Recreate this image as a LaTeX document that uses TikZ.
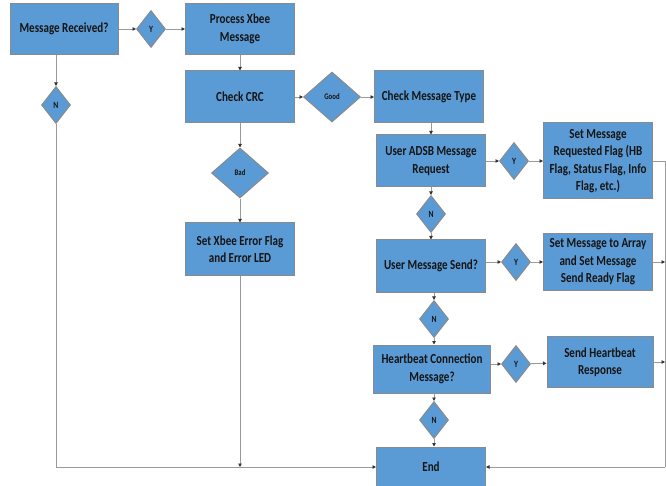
\documentclass[tikz,border=0pt]{standalone}
\usepackage{fontspec}
\setmainfont{Carlito}[FakeStretch=0.8]
\usetikzlibrary{shapes.geometric,arrows.meta}
\definecolor{boxblue}{HTML}{5B9BD5}
\definecolor{boxline}{HTML}{8A8A8A}
\definecolor{flowline}{HTML}{9A9A9A}
\definecolor{inktext}{HTML}{141414}

\begin{document}
\begin{tikzpicture}[x=1pt,y=-1pt]
        \tikzstyle{every node}+=[text=inktext, font=\bfseries\fontsize{13.8}{17.5}\selectfont]
        \tikzstyle{proc}=[draw=boxline, fill=boxblue, line width=1pt, inner sep=1pt, align=center, minimum width=109pt, minimum height=52pt]
        \tikzstyle{dec}=[diamond, draw=boxline, fill=boxblue, line width=1pt, inner sep=0pt, minimum width=29pt, minimum height=37pt, font=\bfseries\fontsize{9.5}{11}\selectfont]
        \tikzstyle{bigdec}=[dec, minimum width=57pt, minimum height=50pt, font=\bfseries\fontsize{8.5}{10}\selectfont]
        \tikzstyle{flow}=[draw=flowline, line width=0.9pt, -{Triangle[length=3.5pt,width=3.5pt,color=black!80]}]
        \tikzstyle{link}=[draw=flowline, line width=0.9pt]
        \useasboundingbox (0,0) rectangle (666,486);
        \node [proc, minimum width=108pt, minimum height=51pt] (recv) at (64,29) {Message Received?};
        \node [dec] (recvY) at (151,29) {Y};
        \node [proc, minimum height=51pt] (xbee) at (240,29) {Process Xbee\\Message};
        \node [dec] (recvN) at (56,105) {N};
        \node [proc] (crc) at (240,97) {Check CRC};
        \node [bigdec] (good) at (332,97) {Good};
        \node [proc] (mtype) at (429,97) {Check Message Type};
        \node [bigdec] (bad) at (240,173) {Bad};
        \node [proc] (err) at (240,249) {Set Xbee Error Flag\\and Error LED};
        \node [proc] (adsb) at (431,161) {User ADSB Message\\Request};
        \node [dec] (adsbY) at (514,161) {Y};
        \node [proc, minimum height=76pt] (reqflag) at (598,161) {Set Message\\Requested Flag (HB\\Flag, Status Flag, Info\\Flag, etc.)};
        \node [dec] (adsbN) at (431,214) {N};
        \node [proc] (usend) at (431,266) {User Message Send?};
        \node [dec] (usendY) at (516,262) {Y};
        \node [proc, minimum height=57pt] (array) at (598,262) {Set Message to Array\\and Set Message\\Send Ready Flag};
        \node [dec] (usendN) at (434,319) {N};
        \node [proc, minimum width=117pt, minimum height=48pt] (hb) at (432,369) {Heartbeat Connection\\Message?};
        \node [dec] (hbY) at (516,364) {Y};
        \node [proc, minimum width=106pt, minimum height=51pt] (hbresp) at (600,362) {Send Heartbeat\\Response};
        \node [dec] (hbN) at (434,420) {N};
        \node [proc, minimum height=40pt] (end) at (431,467) {End};
        \coordinate (leftcorner) at (56,467);
        \coordinate (errfoot) at (240,467);
        \coordinate (bustop) at (665,161);
        \coordinate (busfoot) at (665,467);
        \draw [flow] (recv) -- (recvY);
        \draw [flow] (recvY) -- (xbee);
        \draw [flow] (recv.south -| recvN) -- (recvN);
        \draw [flow] (xbee) -- (crc);
        \draw [flow] (crc) -- (good);
        \draw [flow] (good) -- (mtype);
        \draw [flow] (crc) -- (bad);
        \draw [flow] (bad) -- (err);
        \draw [flow] (err) -- (errfoot);
        \draw [flow] (recvN) -- (leftcorner) -- (end);
        \draw [flow] (mtype.south -| adsb) -- (adsb);
        \draw [flow] (adsb) -- (adsbY);
        \draw [flow] (adsbY) -- (reqflag);
        \draw [flow] (adsb) -- (adsbN);
        \draw [flow] (adsbN) -- (usend);
        \draw [flow] (usend.east |- usendY) -- (usendY);
        \draw [flow] (usendY) -- (array);
        \draw [flow] (usend.south -| usendN) -- (usendN);
        \draw [flow] (usendN) -- (hb.north -| usendN);
        \draw [flow] (hb.east |- hbY) -- (hbY);
        \draw [flow] (hbY) -- (hbresp);
        \draw [flow] (hb.south -| hbN) -- (hbN);
        \draw [flow] (hbN) -- (end.north -| hbN);
        \draw [link] (reqflag) -- (bustop) -- (busfoot);
        \draw [flow] (busfoot) -- (end);
        \draw [flow] (array) -- (array -| bustop);
        \draw [flow] (hbresp) -- (hbresp -| bustop);
\end{tikzpicture}
\end{document}
